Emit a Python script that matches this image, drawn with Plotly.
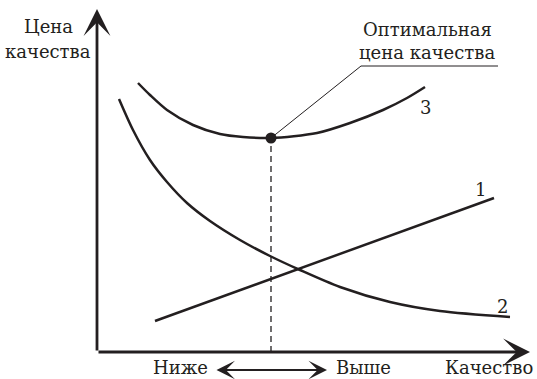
import plotly.graph_objects as go

# Схема: цена качества (данные в условных единицах, начало координат = 0,0)
ink = "#231f20"
font = "DejaVu Serif"

# кривая 1 - прямая
x1 = [58, 397]
y1 = [31, 154]

# кривая 2 - убывающая
x2 = [22, 36, 53, 70, 90, 113, 143, 173, 203, 243, 293, 343, 413]
y2 = [253, 222, 192, 170, 149, 131, 112, 96, 82, 65, 50, 41, 35]

# кривая 3 - суммарная, с минимумом
x3 = [41, 53, 70, 96, 123, 146, 174, 220, 253, 286, 310, 328]
y3 = [269, 257, 242, 227, 218, 215, 214, 219, 229, 242, 254, 265]

# оптимум
opt_x = [174]
opt_y = [214]

# выноска к подписи
lead_x = [174, 264, 401]
lead_y = [214, 286, 286]

# концы осей
x_axis_end = 433
y_axis_end = 343

fig = go.Figure()

for xs, ys in [(x1, y1), (x2, y2), (x3, y3)]:
    fig.add_trace(go.Scatter(x=xs, y=ys, mode="lines",
                             line=dict(color=ink, width=2.5, shape="spline", smoothing=0.8),
                             hoverinfo="skip"))

# пунктир от оптимума вниз
fig.add_trace(go.Scatter(x=[opt_x[0], opt_x[0]], y=[0, opt_y[0]], mode="lines",
                         line=dict(color=ink, width=1.3, dash="6px,4px"), hoverinfo="skip"))
# выноска
fig.add_trace(go.Scatter(x=lead_x, y=lead_y, mode="lines",
                         line=dict(color=ink, width=1), hoverinfo="skip"))
# точка оптимума
fig.add_trace(go.Scatter(x=opt_x, y=opt_y, mode="markers",
                         marker=dict(color=ink, size=11), hoverinfo="skip"))

# оси со стрелками
arrow = dict(showarrow=True, arrowhead=3, arrowsize=1.6, arrowwidth=2.8, arrowcolor=ink,
             axref="x", ayref="y", xref="x", yref="y", text="")
fig.add_annotation(x=0, y=y_axis_end, ax=0, ay=0, **arrow)
fig.add_annotation(x=x_axis_end, y=0, ax=0, ay=0, **arrow)
# двойная стрелка "Ниже - Выше"
fig.add_annotation(x=230, y=-18, ax=118, ay=-18, showarrow=True, arrowhead=3, arrowside="end+start",
                   arrowsize=1.4, arrowwidth=2.2, arrowcolor=ink,
                   axref="x", ayref="y", xref="x", yref="y", text="")

def label(x, y, text, size=18):
    fig.add_annotation(x=x, y=y, text=text, showarrow=False, xref="x", yref="y",
                       font=dict(family=font, size=size, color=ink))

label(-49, 326, "Цена")
label(-49, 301, "качества")
label(330, 323, "Оптимальная")
label(330, 300, "цена качества")
label(383, 163, "1")
label(405, 46, "2")
label(328, 245, "3")
label(83, -15, "Ниже")
label(266, -15, "Выше")
label(392, -15, "Качество")

fig.update_layout(width=537, height=379, margin=dict(l=0, r=0, t=0, b=0),
                  paper_bgcolor="white", plot_bgcolor="white", showlegend=False,
                  font=dict(family=font, color=ink))
fig.update_xaxes(range=[-97, 440], visible=False)
fig.update_yaxes(range=[-27, 352], visible=False)

# убрать стандартный отступ страницы, чтобы рисунок лёг в окно целиком
fig.write_html("out.html", config={"displayModeBar": False},
               post_script="document.body.style.margin='0';")
